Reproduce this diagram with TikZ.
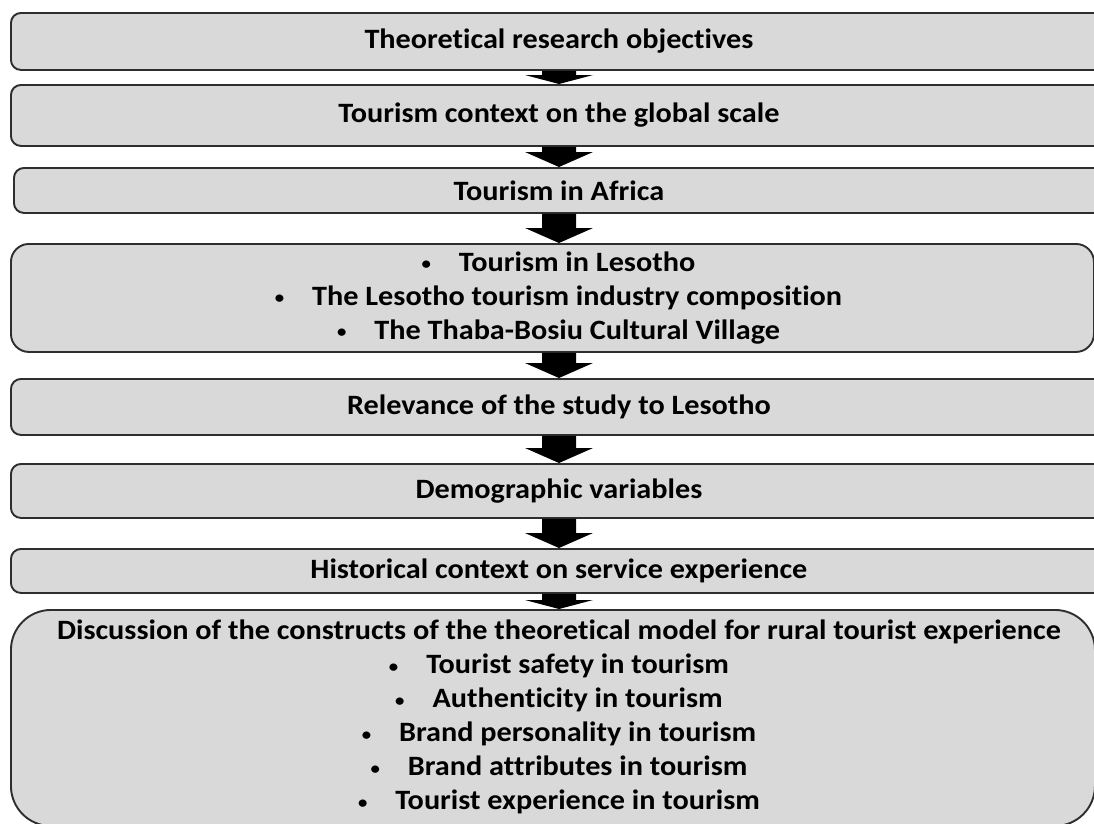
\documentclass[tikz,border=0pt]{standalone}
\usepackage{fontspec}
\setmainfont{Carlito}[FakeStretch=1.08, Ligatures=NoCommon]
\usepackage{graphicx}
\usetikzlibrary{calc}
\definecolor{boxfill}{HTML}{D9D9D9}
\definecolor{boxline}{HTML}{2E2E2E}
\tikzset{
  stage/.style={draw=boxline, line width=1.9pt, fill=boxfill, inner sep=0pt,
    anchor=north west, rounded corners=#1},
  stage/.default=10pt,
  caption/.style={align=center, inner sep=0pt, text=black,
    font=\fontsize{28}{34}\selectfont\bfseries},
}
% block arrow: #1 upper stage, #2 lower stage, #3 head length
\newcommand\flowarrow[3]{%
  \fill[black]
    ($(axis |- #1.south)+(-17,0)$) --
    ($(axis |- #2.north)+(-17,-#3)$) --
    ($(axis |- #2.north)+(-34,-#3)$) --
    (axis |- #2.north) --
    ($(axis |- #2.north)+(34,-#3)$) --
    ($(axis |- #2.north)+(17,-#3)$) --
    ($(axis |- #1.south)+(17,0)$) -- cycle;}
\newcommand\itm{\raisebox{1.5pt}{\scalebox{0.62}{\textbullet}}\hspace{28pt}}
\begin{document}
\begin{tikzpicture}[x=1pt, y=-1pt]
\useasboundingbox (0,0) rectangle (1094,823);
\clip (0,0) rectangle (1094,823);
\coordinate (axis) at (559,0);

% stages
\node[stage, minimum width=1096pt, minimum height=57pt] (s1) at (10,12) {};
\node[stage, minimum width=1096pt, minimum height=61pt] (s2) at (10,84) {};
\node[stage, minimum width=1090pt, minimum height=45pt] (s3) at (13,167) {};
\node[stage=18pt, minimum width=1083pt, minimum height=108pt] (s4) at (10,243) {};
\node[stage, minimum width=1096pt, minimum height=56pt] (s5) at (10,378) {};
\node[stage, minimum width=1096pt, minimum height=54pt] (s6) at (10,463) {};
\node[stage, minimum width=1096pt, minimum height=44pt] (s7) at (10,548) {};
\node[stage=40pt, minimum width=1084pt, minimum height=216pt] (s8) at (10,609) {};

% captions
\node[caption] (c1) at (s1.center) {Theoretical research objectives};
\node[caption] (c2) at (s2.center) {Tourism context on the global scale};
\node[caption] (c3) at (s3.center) {Tourism in Africa};
\node[caption] (c4) at ([xshift=6pt]s4.center) {\itm Tourism in Lesotho\\
  \itm The Lesotho tourism industry composition\\
  \itm The Thaba-Bosiu Cultural Village};
\node[caption] (c5) at (s5.center) {Relevance of the study to Lesotho};
\node[caption] (c6) at (s6.center) {Demographic variables};
\node[caption] (c7) at (s7.center) {Historical context on service experience};
\node[caption] (c8) at ([xshift=6pt,yshift=1pt]s8.center) {Discussion of the constructs of the theoretical model for rural tourist experience\\
  \itm Tourist safety in tourism\\
  \itm Authenticity in tourism\\
  \itm Brand personality in tourism\\
  \itm Brand attributes in tourism\\
  \itm Tourist experience in tourism};

% arrows between stages
\flowarrow{s1}{s2}{9}
\flowarrow{s2}{s3}{15}
\flowarrow{s3}{s4}{15}
\flowarrow{s4}{s5}{15}
\flowarrow{s5}{s6}{15}
\flowarrow{s6}{s7}{15}
\flowarrow{s7}{s8}{9}
\end{tikzpicture}
\end{document}
